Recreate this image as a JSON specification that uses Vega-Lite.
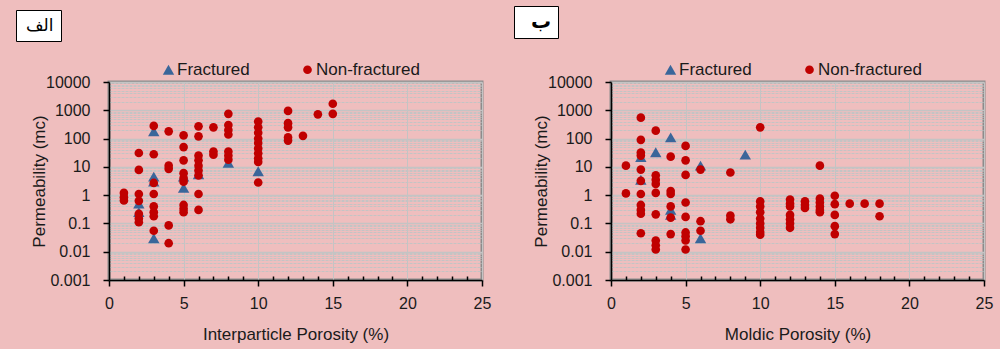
{
  "$schema": "https://vega.github.io/schema/vega-lite/v6.json",
  "background": "#EFBEBE",
  "padding": {"left": 14, "top": 4, "right": 5, "bottom": 5},
  "datasets": {
    "a": [
      {"p": 2, "k": 0.5, "t": "Fractured"}, {"p": 2, "k": 0.25, "t": "Fractured"},
      {"p": 3, "k": 180, "t": "Fractured"}, {"p": 3, "k": 4.5, "t": "Fractured"}, {"p": 3, "k": 3, "t": "Fractured"}, {"p": 3, "k": 0.03, "t": "Fractured"},
      {"p": 5, "k": 4.5, "t": "Fractured"}, {"p": 5, "k": 1.8, "t": "Fractured"},
      {"p": 6, "k": 5.5, "t": "Fractured"}, {"p": 8, "k": 14, "t": "Fractured"}, {"p": 10, "k": 7, "t": "Fractured"},
      {"p": 1, "k": 1.2, "t": "Non-fractured"}, {"p": 1, "k": 0.85, "t": "Non-fractured"}, {"p": 1, "k": 0.65, "t": "Non-fractured"},
      {"p": 2, "k": 31, "t": "Non-fractured"}, {"p": 2, "k": 7.8, "t": "Non-fractured"}, {"p": 2, "k": 1.1, "t": "Non-fractured"}, {"p": 2, "k": 0.63, "t": "Non-fractured"}, {"p": 2, "k": 0.22, "t": "Non-fractured"}, {"p": 2, "k": 0.15, "t": "Non-fractured"}, {"p": 2, "k": 0.11, "t": "Non-fractured"},
      {"p": 3, "k": 280, "t": "Non-fractured"}, {"p": 3, "k": 28, "t": "Non-fractured"}, {"p": 3, "k": 2.7, "t": "Non-fractured"}, {"p": 3, "k": 1.1, "t": "Non-fractured"}, {"p": 3, "k": 0.4, "t": "Non-fractured"}, {"p": 3, "k": 0.25, "t": "Non-fractured"}, {"p": 3, "k": 0.18, "t": "Non-fractured"}, {"p": 3, "k": 0.055, "t": "Non-fractured"},
      {"p": 4, "k": 180, "t": "Non-fractured"}, {"p": 4, "k": 11, "t": "Non-fractured"}, {"p": 4, "k": 8.5, "t": "Non-fractured"}, {"p": 4, "k": 0.085, "t": "Non-fractured"}, {"p": 4, "k": 0.02, "t": "Non-fractured"},
      {"p": 5, "k": 130, "t": "Non-fractured"}, {"p": 5, "k": 50, "t": "Non-fractured"}, {"p": 5, "k": 17, "t": "Non-fractured"}, {"p": 5, "k": 6, "t": "Non-fractured"}, {"p": 5, "k": 4, "t": "Non-fractured"}, {"p": 5, "k": 3, "t": "Non-fractured"}, {"p": 5, "k": 0.45, "t": "Non-fractured"}, {"p": 5, "k": 0.33, "t": "Non-fractured"}, {"p": 5, "k": 0.25, "t": "Non-fractured"},
      {"p": 6, "k": 270, "t": "Non-fractured"}, {"p": 6, "k": 120, "t": "Non-fractured"}, {"p": 6, "k": 25, "t": "Non-fractured"}, {"p": 6, "k": 17, "t": "Non-fractured"}, {"p": 6, "k": 11, "t": "Non-fractured"}, {"p": 6, "k": 7.5, "t": "Non-fractured"}, {"p": 6, "k": 5, "t": "Non-fractured"}, {"p": 6, "k": 1.1, "t": "Non-fractured"}, {"p": 6, "k": 0.3, "t": "Non-fractured"},
      {"p": 7, "k": 250, "t": "Non-fractured"}, {"p": 7, "k": 35, "t": "Non-fractured"}, {"p": 7, "k": 27, "t": "Non-fractured"},
      {"p": 8, "k": 750, "t": "Non-fractured"}, {"p": 8, "k": 300, "t": "Non-fractured"}, {"p": 8, "k": 200, "t": "Non-fractured"}, {"p": 8, "k": 140, "t": "Non-fractured"}, {"p": 8, "k": 35, "t": "Non-fractured"}, {"p": 8, "k": 25, "t": "Non-fractured"}, {"p": 8, "k": 18, "t": "Non-fractured"},
      {"p": 10, "k": 400, "t": "Non-fractured"}, {"p": 10, "k": 250, "t": "Non-fractured"}, {"p": 10, "k": 160, "t": "Non-fractured"}, {"p": 10, "k": 100, "t": "Non-fractured"}, {"p": 10, "k": 70, "t": "Non-fractured"}, {"p": 10, "k": 45, "t": "Non-fractured"}, {"p": 10, "k": 30, "t": "Non-fractured"}, {"p": 10, "k": 20, "t": "Non-fractured"}, {"p": 10, "k": 15, "t": "Non-fractured"}, {"p": 10, "k": 2.8, "t": "Non-fractured"},
      {"p": 12, "k": 950, "t": "Non-fractured"}, {"p": 12, "k": 350, "t": "Non-fractured"}, {"p": 12, "k": 250, "t": "Non-fractured"}, {"p": 12, "k": 110, "t": "Non-fractured"}, {"p": 12, "k": 85, "t": "Non-fractured"},
      {"p": 13, "k": 125, "t": "Non-fractured"}, {"p": 14, "k": 720, "t": "Non-fractured"},
      {"p": 15, "k": 1700, "t": "Non-fractured"}, {"p": 15, "k": 750, "t": "Non-fractured"}
    ],
    "b": [
      {"p": 2, "k": 22, "t": "Fractured"}, {"p": 2, "k": 3.5, "t": "Fractured"}, {"p": 3, "k": 33, "t": "Fractured"},
      {"p": 4, "k": 110, "t": "Fractured"}, {"p": 4, "k": 0.3, "t": "Fractured"}, {"p": 4, "k": 0.2, "t": "Fractured"},
      {"p": 6, "k": 11, "t": "Fractured"}, {"p": 6, "k": 0.03, "t": "Fractured"}, {"p": 9, "k": 27, "t": "Fractured"},
      {"p": 1, "k": 11, "t": "Non-fractured"}, {"p": 1, "k": 1.15, "t": "Non-fractured"},
      {"p": 2, "k": 550, "t": "Non-fractured"}, {"p": 2, "k": 90, "t": "Non-fractured"}, {"p": 2, "k": 32, "t": "Non-fractured"}, {"p": 2, "k": 25, "t": "Non-fractured"}, {"p": 2, "k": 8, "t": "Non-fractured"}, {"p": 2, "k": 3.2, "t": "Non-fractured"}, {"p": 2, "k": 1.1, "t": "Non-fractured"}, {"p": 2, "k": 0.45, "t": "Non-fractured"}, {"p": 2, "k": 0.3, "t": "Non-fractured"}, {"p": 2, "k": 0.22, "t": "Non-fractured"}, {"p": 2, "k": 0.045, "t": "Non-fractured"},
      {"p": 3, "k": 190, "t": "Non-fractured"}, {"p": 3, "k": 5, "t": "Non-fractured"}, {"p": 3, "k": 3.5, "t": "Non-fractured"}, {"p": 3, "k": 2.5, "t": "Non-fractured"}, {"p": 3, "k": 1.2, "t": "Non-fractured"}, {"p": 3, "k": 0.21, "t": "Non-fractured"}, {"p": 3, "k": 0.025, "t": "Non-fractured"}, {"p": 3, "k": 0.017, "t": "Non-fractured"}, {"p": 3, "k": 0.012, "t": "Non-fractured"},
      {"p": 4, "k": 23, "t": "Non-fractured"}, {"p": 4, "k": 1.4, "t": "Non-fractured"}, {"p": 4, "k": 1.1, "t": "Non-fractured"}, {"p": 4, "k": 0.4, "t": "Non-fractured"}, {"p": 4, "k": 0.16, "t": "Non-fractured"}, {"p": 4, "k": 0.042, "t": "Non-fractured"},
      {"p": 5, "k": 55, "t": "Non-fractured"}, {"p": 5, "k": 17, "t": "Non-fractured"}, {"p": 5, "k": 5.2, "t": "Non-fractured"}, {"p": 5, "k": 0.55, "t": "Non-fractured"}, {"p": 5, "k": 0.17, "t": "Non-fractured"}, {"p": 5, "k": 0.048, "t": "Non-fractured"}, {"p": 5, "k": 0.035, "t": "Non-fractured"}, {"p": 5, "k": 0.025, "t": "Non-fractured"}, {"p": 5, "k": 0.012, "t": "Non-fractured"},
      {"p": 6, "k": 8, "t": "Non-fractured"}, {"p": 6, "k": 0.12, "t": "Non-fractured"}, {"p": 6, "k": 0.055, "t": "Non-fractured"},
      {"p": 8, "k": 6.3, "t": "Non-fractured"}, {"p": 8, "k": 0.19, "t": "Non-fractured"}, {"p": 8, "k": 0.14, "t": "Non-fractured"},
      {"p": 10, "k": 250, "t": "Non-fractured"}, {"p": 10, "k": 0.6, "t": "Non-fractured"}, {"p": 10, "k": 0.4, "t": "Non-fractured"}, {"p": 10, "k": 0.25, "t": "Non-fractured"}, {"p": 10, "k": 0.15, "t": "Non-fractured"}, {"p": 10, "k": 0.1, "t": "Non-fractured"}, {"p": 10, "k": 0.07, "t": "Non-fractured"}, {"p": 10, "k": 0.05, "t": "Non-fractured"}, {"p": 10, "k": 0.04, "t": "Non-fractured"},
      {"p": 12, "k": 0.7, "t": "Non-fractured"}, {"p": 12, "k": 0.5, "t": "Non-fractured"}, {"p": 12, "k": 0.4, "t": "Non-fractured"}, {"p": 12, "k": 0.2, "t": "Non-fractured"}, {"p": 12, "k": 0.14, "t": "Non-fractured"}, {"p": 12, "k": 0.1, "t": "Non-fractured"}, {"p": 12, "k": 0.07, "t": "Non-fractured"},
      {"p": 13, "k": 0.6, "t": "Non-fractured"}, {"p": 13, "k": 0.45, "t": "Non-fractured"}, {"p": 13, "k": 0.35, "t": "Non-fractured"},
      {"p": 14, "k": 11, "t": "Non-fractured"}, {"p": 14, "k": 0.75, "t": "Non-fractured"}, {"p": 14, "k": 0.55, "t": "Non-fractured"}, {"p": 14, "k": 0.4, "t": "Non-fractured"}, {"p": 14, "k": 0.3, "t": "Non-fractured"}, {"p": 14, "k": 0.25, "t": "Non-fractured"},
      {"p": 15, "k": 0.95, "t": "Non-fractured"}, {"p": 15, "k": 0.48, "t": "Non-fractured"}, {"p": 15, "k": 0.2, "t": "Non-fractured"}, {"p": 15, "k": 0.08, "t": "Non-fractured"}, {"p": 15, "k": 0.042, "t": "Non-fractured"},
      {"p": 16, "k": 0.5, "t": "Non-fractured"}, {"p": 17, "k": 0.5, "t": "Non-fractured"}, {"p": 18, "k": 0.5, "t": "Non-fractured"}, {"p": 18, "k": 0.18, "t": "Non-fractured"}
    ]
  },
  "spacing": 19,
  "resolve": {
    "scale": {"color": "independent", "shape": "independent", "fill": "independent", "size": "independent"},
    "legend": {"color": "independent", "shape": "independent", "fill": "independent"}
  },
  "hconcat": [
    {
      "width": 373, "height": 198,
      "layer": [
        {
          "data": {"name": "a"},
          "mark": {"type": "point", "filled": true, "opacity": 1},
          "encoding": {
            "x": {"field": "p", "type": "quantitative", "scale": {"domain": [0, 25], "nice": false},
              "axis": {"title": "Interparticle Porosity (%)", "values": [0,1,2,3,4,5,6,7,8,9,10,11,12,13,14,15,16,17,18,19,20,21,22,23,24,25],
                "labelExpr": "datum.value % 5 === 0 ? datum.label : ''",
                "tickSize": {"condition": {"test": "datum.value % 5 === 0", "value": 6}, "value": -4},
                "gridOpacity": {"condition": {"test": "datum.value % 5 === 0", "value": 1}, "value": 0}}},
            "y": {"field": "k", "type": "quantitative", "scale": {"type": "log", "domain": [0.001, 10000], "nice": false},
              "axis": {"title": "Permeability (mc)", "format": "~g",
                "values": [0.001,0.002,0.003,0.004,0.005,0.006,0.007,0.008,0.009,0.01,0.02,0.03,0.04,0.05,0.06,0.07,0.08,0.09,0.1,0.2,0.3,0.4,0.5,0.6,0.7,0.8,0.9,1,2,3,4,5,6,7,8,9,10,20,30,40,50,60,70,80,90,100,200,300,400,500,600,700,800,900,1000,2000,3000,4000,5000,6000,7000,8000,9000,10000],
                "labelExpr": "indexof([0.001,0.01,0.1,1,10,100,1000,10000], datum.value) >= 0 ? datum.label : ''",
                "tickOpacity": {"condition": {"test": "indexof([0.001,0.01,0.1,1,10,100,1000,10000], datum.value) >= 0", "value": 1}, "value": 0},
                "gridDash": {"condition": {"test": "indexof([0.001,0.01,0.1,1,10,100,1000,10000], datum.value) >= 0", "value": []}, "value": [3, 1]},
                "gridWidth": {"condition": {"test": "indexof([0.001,0.01,0.1,1,10,100,1000,10000], datum.value) >= 0", "value": 1.5}, "value": 1}}},
            "shape": {"field": "t", "type": "nominal", "scale": {"domain": ["Fractured", "Non-fractured"], "range": ["triangle-up", "circle"]},
              "legend": {"orient": "none", "legendX": 51, "legendY": -21, "direction": "horizontal", "title": null}},
            "color": {"field": "t", "type": "nominal", "scale": {"domain": ["Fractured", "Non-fractured"], "range": ["#3A669A", "#C00000"]},
              "legend": {"orient": "none", "legendX": 51, "legendY": -21, "direction": "horizontal", "title": null}},
            "size": {"field": "t", "type": "nominal", "scale": {"domain": ["Fractured", "Non-fractured"], "range": [130, 75]}, "legend": null}
          }
        },
        {
          "data": {"values": [{"lbl": "الف"}]},
          "mark": {"type": "point", "filled": true, "opacity": 0},
          "encoding": {
            "fill": {"field": "lbl", "type": "nominal", "scale": {"range": ["#ffffff"]},
              "legend": {"orient": "none", "legendX": -93, "legendY": -72, "title": null, "fillColor": "white", "strokeColor": "black",
                "padding": 7, "labelFont": "DejaVu Sans", "labelFontSize": 17, "labelColor": "black", "labelOffset": -14, "symbolSize": 1, "symbolOpacity": 0}}
          }
        }
      ]
    },
    {
      "width": 373, "height": 198,
      "layer": [
        {
          "data": {"name": "b"},
          "mark": {"type": "point", "filled": true, "opacity": 1},
          "encoding": {
            "x": {"field": "p", "type": "quantitative", "scale": {"domain": [0, 25], "nice": false},
              "axis": {"title": "Moldic Porosity (%)", "values": [0,1,2,3,4,5,6,7,8,9,10,11,12,13,14,15,16,17,18,19,20,21,22,23,24,25],
                "labelExpr": "datum.value % 5 === 0 ? datum.label : ''",
                "tickSize": {"condition": {"test": "datum.value % 5 === 0", "value": 6}, "value": -4},
                "gridOpacity": {"condition": {"test": "datum.value % 5 === 0", "value": 1}, "value": 0}}},
            "y": {"field": "k", "type": "quantitative", "scale": {"type": "log", "domain": [0.001, 10000], "nice": false},
              "axis": {"title": "Permeability (mc)", "format": "~g",
                "values": [0.001,0.002,0.003,0.004,0.005,0.006,0.007,0.008,0.009,0.01,0.02,0.03,0.04,0.05,0.06,0.07,0.08,0.09,0.1,0.2,0.3,0.4,0.5,0.6,0.7,0.8,0.9,1,2,3,4,5,6,7,8,9,10,20,30,40,50,60,70,80,90,100,200,300,400,500,600,700,800,900,1000,2000,3000,4000,5000,6000,7000,8000,9000,10000],
                "labelExpr": "indexof([0.001,0.01,0.1,1,10,100,1000,10000], datum.value) >= 0 ? datum.label : ''",
                "tickOpacity": {"condition": {"test": "indexof([0.001,0.01,0.1,1,10,100,1000,10000], datum.value) >= 0", "value": 1}, "value": 0},
                "gridDash": {"condition": {"test": "indexof([0.001,0.01,0.1,1,10,100,1000,10000], datum.value) >= 0", "value": []}, "value": [3, 1]},
                "gridWidth": {"condition": {"test": "indexof([0.001,0.01,0.1,1,10,100,1000,10000], datum.value) >= 0", "value": 1.5}, "value": 1}}},
            "shape": {"field": "t", "type": "nominal", "scale": {"domain": ["Fractured", "Non-fractured"], "range": ["triangle-up", "circle"]},
              "legend": {"orient": "none", "legendX": 51, "legendY": -21, "direction": "horizontal", "title": null}},
            "color": {"field": "t", "type": "nominal", "scale": {"domain": ["Fractured", "Non-fractured"], "range": ["#3A669A", "#C00000"]},
              "legend": {"orient": "none", "legendX": 51, "legendY": -21, "direction": "horizontal", "title": null}},
            "size": {"field": "t", "type": "nominal", "scale": {"domain": ["Fractured", "Non-fractured"], "range": [130, 75]}, "legend": null}
          }
        },
        {
          "data": {"values": [{"lbl": "ب"}]},
          "mark": {"type": "point", "filled": true, "opacity": 0},
          "encoding": {
            "fill": {"field": "lbl", "type": "nominal", "scale": {"range": ["#ffffff"]},
              "legend": {"orient": "none", "legendX": -97, "legendY": -76, "title": null, "fillColor": "white", "strokeColor": "black",
                "padding": 6, "labelFont": "DejaVu Sans", "labelFontSize": 20, "labelFontWeight": "bold", "labelColor": "black", "labelOffset": -9, "symbolSize": 1, "symbolOpacity": 0}}
          }
        }
      ]
    }
  ],
  "config": {
    "font": "Liberation Sans",
    "view": {"fill": "white", "stroke": "#8C8C8C", "strokeWidth": 3},
    "axis": {
      "domainColor": "black", "domainWidth": 1.5, "tickColor": "black", "tickWidth": 1.5,
      "labelFont": "Liberation Sans", "labelFontSize": 16, "labelColor": "#1a1a1a", "labelOverlap": false, "labelFlush": false, "labelBound": false,
      "titleFont": "Liberation Sans", "titleFontSize": 17, "titleFontWeight": "normal", "titleColor": "#1a1a1a",
      "gridColor": "#C4C4C4", "labelPadding": 4
    },
    "axisY": {"labelPadding": 13, "titlePadding": -3, "tickSize": 6},
    "axisX": {"labelPadding": 9, "titlePadding": 15},
    "legend": {"labelFont": "Liberation Sans", "labelFontSize": 17, "labelColor": "#1a1a1a", "symbolSize": 70, "columnPadding": 49, "labelOffset": 0, "symbolStrokeWidth": 0}
  }
}
